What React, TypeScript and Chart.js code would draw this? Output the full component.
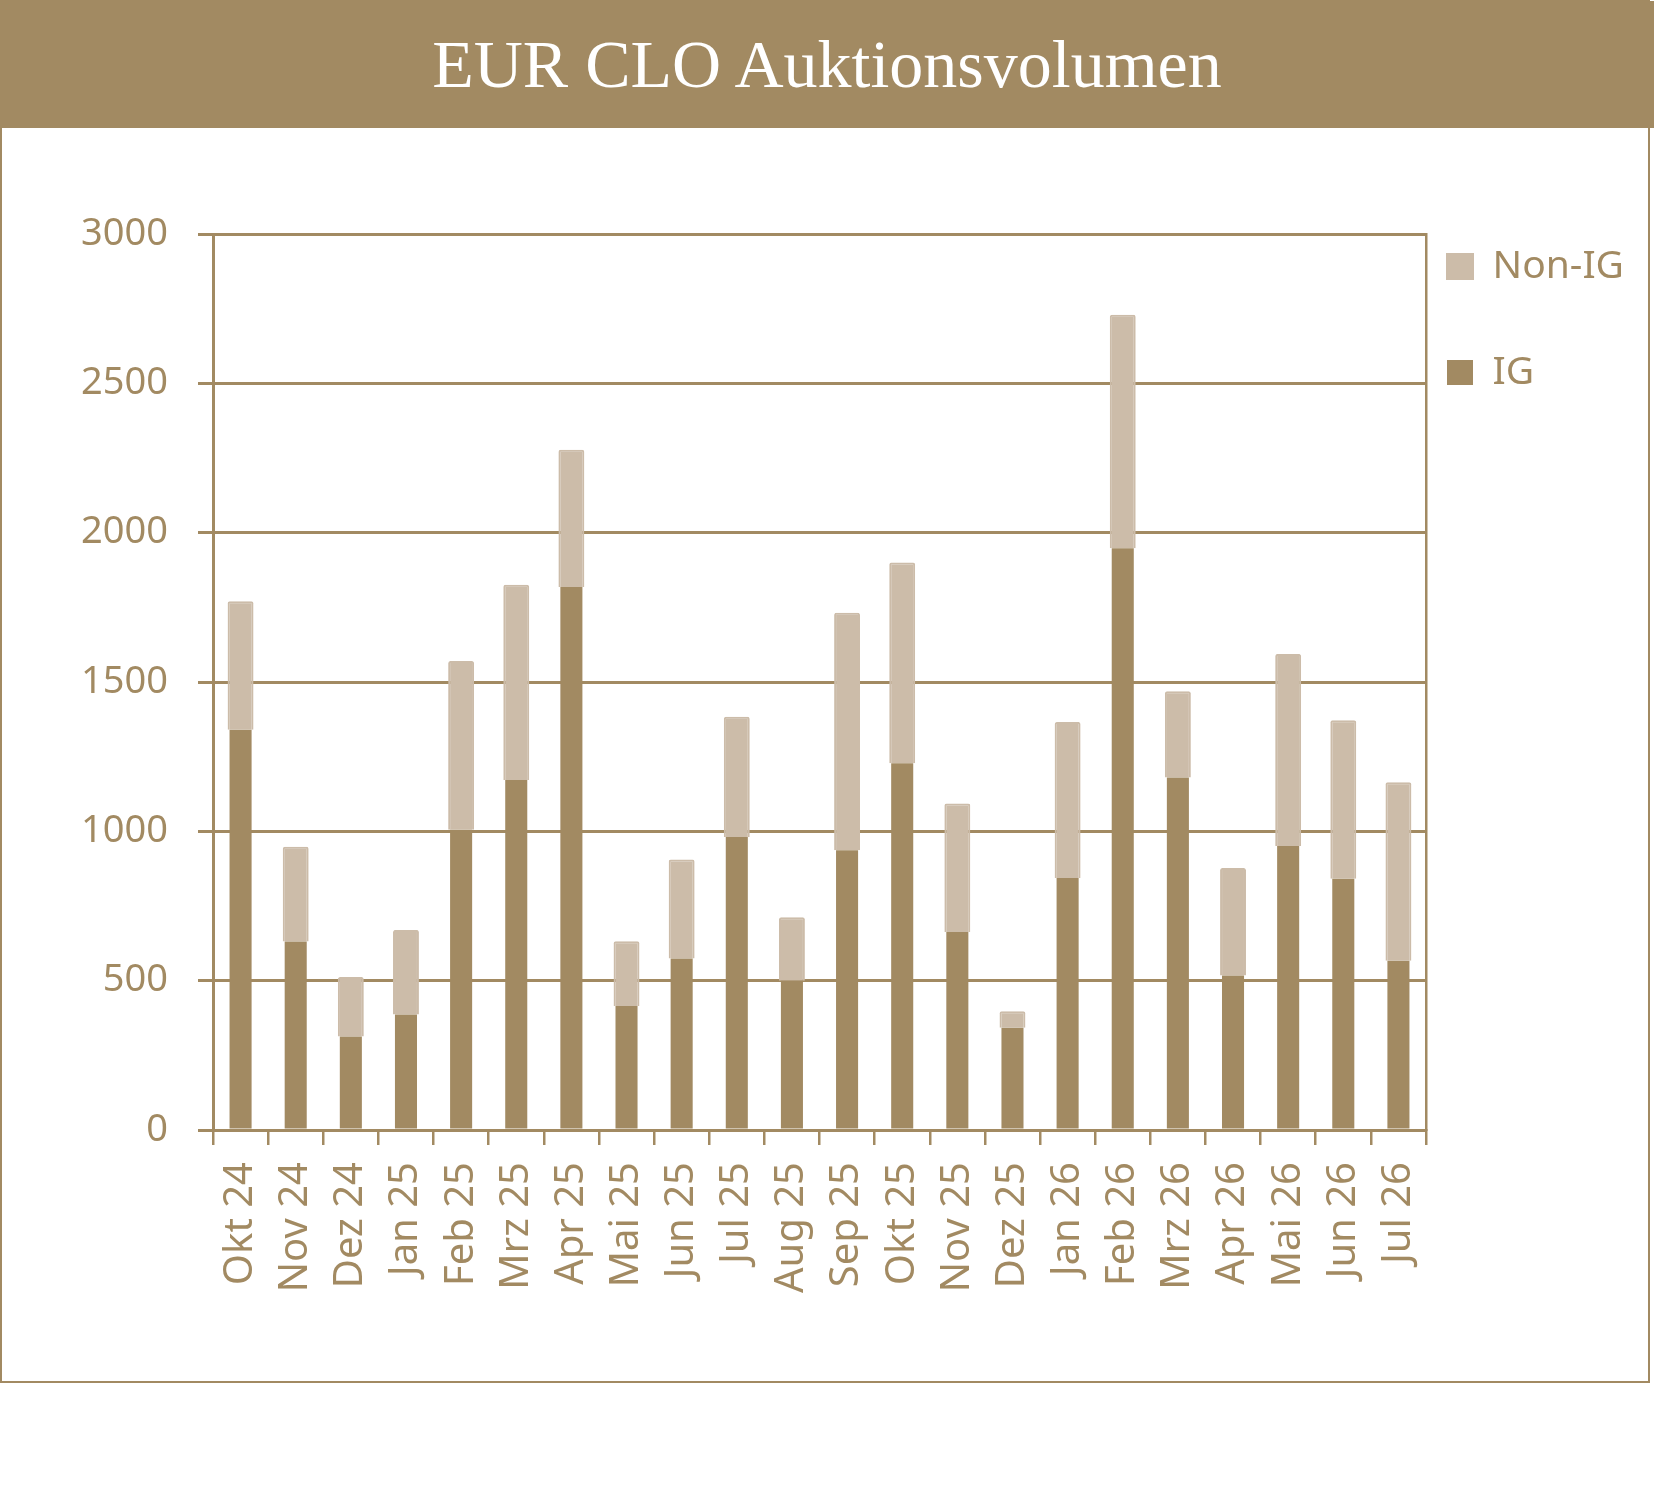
import React, { useEffect, useRef } from 'react';
import { Chart, registerables } from 'chart.js';

Chart.register(...registerables);

const categories = [
  'Okt 24', 'Nov 24', 'Dez 24', 'Jan 25', 'Feb 25', 'Mrz 25', 'Apr 25', 'Mai 25',
  'Jun 25', 'Jul 25', 'Aug 25', 'Sep 25', 'Okt 25', 'Nov 25', 'Dez 25', 'Jan 26',
  'Feb 26', 'Mrz 26', 'Apr 26', 'Mai 26', 'Jun 26', 'Jul 26',
];

const igValues = [
  1340, 631, 313, 387, 1005, 1172, 1818, 415, 574, 981, 500, 937, 1228, 663, 342, 844,
  1948, 1180, 517, 951, 841, 567,
];

const nonIgValues = [
  430, 317, 199, 283, 565, 654, 460, 217, 332, 403, 212, 795, 672, 430, 56, 522,
  782, 289, 360, 643, 531, 597,
];

const seriesLabels = ['IG', 'Non-IG'];
const yMin = 0;
const yMax = 3000;
const yStep = 500;
const titleText = 'EUR CLO Auktionsvolumen';

const TAN = '#A28A62';
const LIGHT = '#CCBCA9';

export default function App() {
  const canvasRef = useRef<HTMLCanvasElement | null>(null);

  useEffect(() => {
    const canvas = canvasRef.current;
    if (!canvas) return;
    Chart.defaults.font.family = '"Noto Sans", sans-serif';
    Chart.defaults.color = TAN;

    const baseGen = (Chart.defaults.plugins.legend.labels as any).generateLabels;

    const chart = new Chart(canvas, {
      type: 'bar',
      data: {
        labels: categories,
        datasets: [
          {
            label: seriesLabels[0],
            data: igValues,
            backgroundColor: TAN,
            borderWidth: 0,
            barPercentage: 0.4,
            categoryPercentage: 1,
          },
          {
            label: seriesLabels[1],
            data: nonIgValues,
            backgroundColor: LIGHT,
            borderColor: LIGHT,
            borderWidth: 2,
            borderRadius: 2,
            barPercentage: 0.47,
            categoryPercentage: 1,
          },
        ],
      },
      options: {
        responsive: false,
        animation: false,
        layout: { padding: { left: 0, top: 106, right: 18, bottom: 0 } },
        plugins: {
          tooltip: { enabled: false },
          title: { display: false },
          legend: {
            position: 'right',
            align: 'start',
            fullSize: false,
            reverse: true,
            maxWidth: 196,
            labels: {
              boxWidth: 26,
              boxHeight: 25,
              padding: 13,
              color: TAN,
              font: { size: 39, lineHeight: '93px' } as any,
              generateLabels: (chart: any) =>
                baseGen(chart).map((it: any) => ({ ...it, text: [it.text] })),
            },
          },
        },
        scales: {
          x: {
            stacked: true,
            offset: true,
            grid: {
              display: true,
              drawOnChartArea: false,
              drawTicks: true,
              tickLength: 15,
              color: TAN,
              lineWidth: 2.5,
              offset: true,
            },
            border: { display: true, color: TAN, width: 3 },
            ticks: {
              color: TAN,
              font: { size: 40 },
              minRotation: 90,
              maxRotation: 90,
              autoSkip: false,
              padding: 17,
            },
            afterFit: (s: any) => {
              s.height = 251;
            },
          },
          y: {
            stacked: true,
            min: yMin,
            max: yMax,
            ticks: {
              stepSize: yStep,
              color: TAN,
              font: { size: 38 },
              padding: 30,
              callback: (v: any) => String(v),
            },
            grid: { color: TAN, lineWidth: 3, tickLength: 15, drawTicks: true },
            border: { display: true, color: TAN, width: 3 },
            afterFit: (s: any) => {
              s.width = 211;
            },
          },
          y2: {
            position: 'right',
            display: true,
            min: yMin,
            max: yMax,
            grid: { display: false, drawTicks: false },
            ticks: { display: false },
            border: { display: true, color: TAN, width: 2.5 },
            afterFit: (s: any) => {
              s.width = 8;
            },
          },
        },
      } as any,
    });
    return () => chart.destroy();
  }, []);

  return (
    <div
      style={{
        position: 'absolute',
        left: 0,
        top: 0,
        width: 1654,
        height: 1486,
        background: '#fff',
      }}
    >
      <div
        style={{
          position: 'absolute',
          left: 0,
          top: 0,
          width: 1650,
          height: 1383,
          border: `2px solid ${TAN}`,
          boxSizing: 'border-box',
        }}
      />
      <div
        style={{
          position: 'absolute',
          left: 0,
          top: 1,
          width: 1654,
          height: 127,
          background: TAN,
          color: '#fff',
          fontFamily: '"Liberation Serif", serif',
          fontSize: 68,
          lineHeight: '127px',
          textAlign: 'center',
          whiteSpace: 'nowrap',
        }}
      >
        {titleText}
      </div>
      <canvas
        ref={canvasRef}
        width={1646}
        height={1253}
        style={{ position: 'absolute', left: 2, top: 128, width: 1646, height: 1253 }}
      />
    </div>
  );
}
